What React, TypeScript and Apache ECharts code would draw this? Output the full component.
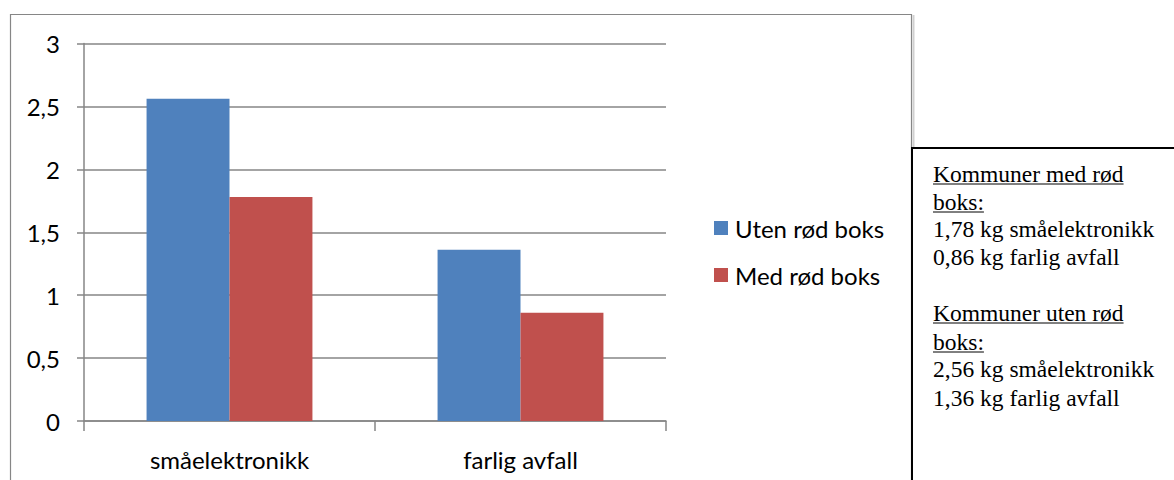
import React, { useEffect, useRef } from "react";
import * as echarts from "echarts";

const categories = ["småelektronikk", "farlig avfall"];
const seriesNames = ["Uten rød boks", "Med rød boks"];
const utenValues = [2.56, 1.36];
const medValues = [1.78, 0.86];
const yMin = 0;
const yMax = 3;
const yInterval = 0.5;

const headingMed = ["Kommuner med rød", "boks:"];
const headingUten = ["Kommuner uten rød", "boks:"];

const fmt = (v: number) => String(v).replace(".", ",");

const serifFont = "'Liberation Serif', 'Times New Roman', serif";
const sansFont = "Lato, 'Open Sans', sans-serif";

function measure(text: string, font: string): number {
  const c = document.createElement("canvas").getContext("2d");
  if (!c) return text.length * 11;
  c.font = font;
  return c.measureText(text).width;
}

export default function App() {
  const ref = useRef<HTMLDivElement>(null);
  useEffect(() => {
    if (!ref.current) return;
    const chart = echarts.init(ref.current, undefined, { renderer: "svg" });
    const gray = "#868686";
    const serifSize = 23.5;
    const sansSize = 24;
    const textX = 933;
    const lineYs = [174, 202, 229, 257, 313, 342, 369, 398];
    const boxTexts: { text: string; underline: boolean }[] = [
      { text: headingMed[0], underline: true },
      { text: headingMed[1], underline: true },
      { text: `${fmt(medValues[0])} kg ${categories[0]}`, underline: false },
      { text: `${fmt(medValues[1])} kg ${categories[1]}`, underline: false },
      { text: headingUten[0], underline: true },
      { text: headingUten[1], underline: true },
      { text: `${fmt(utenValues[0])} kg ${categories[0]}`, underline: false },
      { text: `${fmt(utenValues[1])} kg ${categories[1]}`, underline: false },
    ];
    const graphics: any[] = [
      {
        type: "rect",
        shape: { x: 10.5, y: 14.5, width: 901, height: 500 },
        style: { fill: "none", stroke: gray, lineWidth: 1.2 },
        silent: true,
      },
      {
        type: "line",
        shape: { x1: 913.5, y1: 15, x2: 913.5, y2: 148 },
        style: { stroke: "#d0d0d0", lineWidth: 2 },
        silent: true,
      },
      {
        type: "line",
        shape: { x1: 911, y1: 148, x2: 1174, y2: 148 },
        style: { stroke: "#000", lineWidth: 2 },
        silent: true,
      },
      {
        type: "line",
        shape: { x1: 912, y1: 148, x2: 912, y2: 480 },
        style: { stroke: "#000", lineWidth: 2 },
        silent: true,
      },
    ];
    boxTexts.forEach((t, i) => {
      graphics.push({
        type: "text",
        x: textX,
        y: lineYs[i],
        style: {
          text: t.text,
          font: `${serifSize}px ${serifFont}`,
          fill: "#000",
          verticalAlign: "middle",
          align: "left",
        },
        silent: true,
      });
      if (t.underline) {
        const w = measure(t.text, `${serifSize}px ${serifFont}`);
        const uy = lineYs[i] + 10;
        graphics.push({
          type: "line",
          shape: { x1: textX, y1: uy, x2: textX + w, y2: uy },
          style: { stroke: "#000", lineWidth: 1 },
          silent: true,
        });
      }
    });

    chart.setOption({
      animation: false,
      textStyle: { fontFamily: sansFont },
      grid: { left: 84, right: 1174 - 666, top: 43.5, bottom: 480 - 421 },
      legend: {
        orient: "vertical",
        left: 709,
        top: 211,
        itemWidth: 14,
        itemHeight: 14,
        itemGap: 23,
        icon: "rect",
        data: seriesNames,
        textStyle: { fontSize: sansSize, color: "#000", fontFamily: sansFont, padding: [0, 0, 0, 2] },
      },
      xAxis: {
        type: "category",
        data: categories,
        axisLine: { show: true, lineStyle: { color: gray, width: 1.5 } },
        axisTick: { show: true, length: 10, lineStyle: { color: gray, width: 1.5 } },
        axisLabel: { fontSize: sansSize, color: "#000", margin: 26, fontFamily: sansFont },
      },
      yAxis: {
        type: "value",
        min: yMin,
        max: yMax,
        interval: yInterval,
        axisLine: { show: true, lineStyle: { color: gray, width: 1.5 } },
        axisTick: { show: true, length: 7, lineStyle: { color: gray, width: 1.5 } },
        splitLine: { show: true, lineStyle: { color: gray, width: 1.5 } },
        axisLabel: {
          fontSize: sansSize,
          color: "#000",
          margin: 24,
          fontFamily: sansFont,
          formatter: (v: number) => fmt(v),
        },
      },
      series: [
        {
          name: seriesNames[0],
          type: "bar",
          data: utenValues,
          itemStyle: { color: "#4F81BD" },
          barGap: "0%",
          barCategoryGap: "43%",
        },
        {
          name: seriesNames[1],
          type: "bar",
          data: medValues,
          itemStyle: { color: "#C0504D" },
          barGap: "0%",
          barCategoryGap: "43%",
        },
      ],
      graphic: graphics,
    });
    return () => chart.dispose();
  }, []);
  return (
    <div
      ref={ref}
      style={{ position: "absolute", left: 0, top: 0, width: 1174, height: 480, background: "#fff" }}
    />
  );
}
